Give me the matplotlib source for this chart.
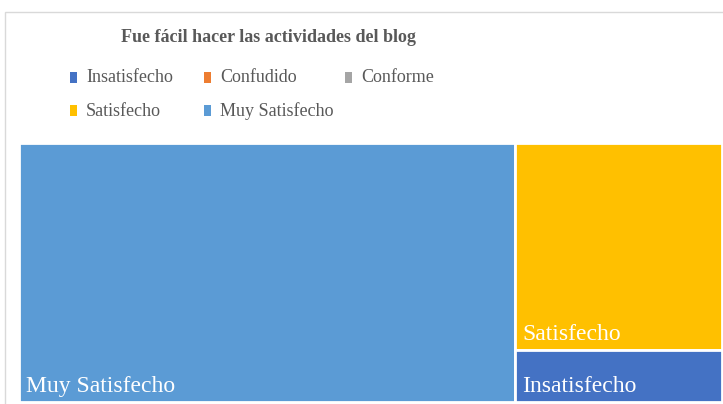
import matplotlib.pyplot as plt
from matplotlib.patches import Rectangle

plt.rcParams['font.family'] = ['Liberation Serif', 'DejaVu Serif']

# data
categories = ['Insatisfecho', 'Confudido', 'Conforme', 'Satisfecho', 'Muy Satisfecho']
values = [1, 0, 0, 4, 12]
colors = ['#4472C4', '#ED7D31', '#A5A5A5', '#FFC000', '#5B9BD5']
title = 'Fue fácil hacer las actividades del blog'


def worst(row, side):
    s = sum(row)
    return max(max(side**2 * r / s**2, s**2 / (side**2 * r)) for r in row)


def squarify(vals, x, y, w, h):
    # classic squarified treemap, vals already scaled to the area w*h
    rects = []
    vals = list(vals)
    while vals:
        side = min(w, h)
        row = [vals[0]]
        i = 1
        while i < len(vals) and worst(row + [vals[i]], side) <= worst(row, side):
            row.append(vals[i])
            i += 1
        s = sum(row)
        if w >= h:
            cw = s / h
            yy = y + h
            for v in row:
                rh = v / cw
                yy -= rh
                rects.append((x, yy, cw, rh))
            x += cw
            w -= cw
        else:
            rh = s / w
            xx = x
            for v in row:
                rw = v / rh
                rects.append((xx, y + h - rh, rw, rh))
                xx += rw
            h -= rh
        vals = vals[i:]
    return rects


W, H = 723, 404
fig = plt.figure(figsize=(W / 100, H / 100), dpi=100)

# chart border (runs off the right and bottom edges)
fig.patches.append(Rectangle((5 / W, -0.1), 1.2, 1 - 12 / H + 0.1, transform=fig.transFigure,
                             fill=False, edgecolor='#d9d9d9', lw=1))

fig.text(268 / W, 1 - 37 / H, title, ha='center', va='center', fontsize=13,
         fontweight='bold', color='#595959')

# legend, Excel style: filled row by row
leg_x = [70, 204, 345]
leg_y = [78, 111]
for k, (name, c) in enumerate(zip(categories, colors)):
    px = leg_x[k % 3]
    py = leg_y[k // 3]
    fig.patches.append(Rectangle((px / W, 1 - (py + 5) / H), 7 / W, 11 / H,
                                 transform=fig.transFigure, facecolor=c, edgecolor='none'))
    fig.text((px + 16) / W, 1 - py / H, name, ha='left', va='center', fontsize=13,
             color='#595959')

# treemap
aw, ah = 703, 259
ax = fig.add_axes([19 / W, 2 / H, aw / W, ah / H])
ax.set_xlim(0, aw)
ax.set_ylim(0, ah)
ax.axis('off')

items = sorted([(v, n, c) for v, n, c in zip(values, categories, colors) if v > 0],
               key=lambda t: -t[0])
total = sum(t[0] for t in items)
scaled = [t[0] * aw * ah / total for t in items]
for (v, name, c), (x, y, w, h) in zip(items, squarify(scaled, 0, 0, aw, ah)):
    ax.add_patch(Rectangle((x, y), w, h, facecolor=c, edgecolor='white', lw=2))
    ax.annotate(name, (x, y), xytext=(5, 7), textcoords='offset points',
                ha='left', va='baseline', fontsize=17, color='white')

fig.savefig('out.png', dpi=100)
